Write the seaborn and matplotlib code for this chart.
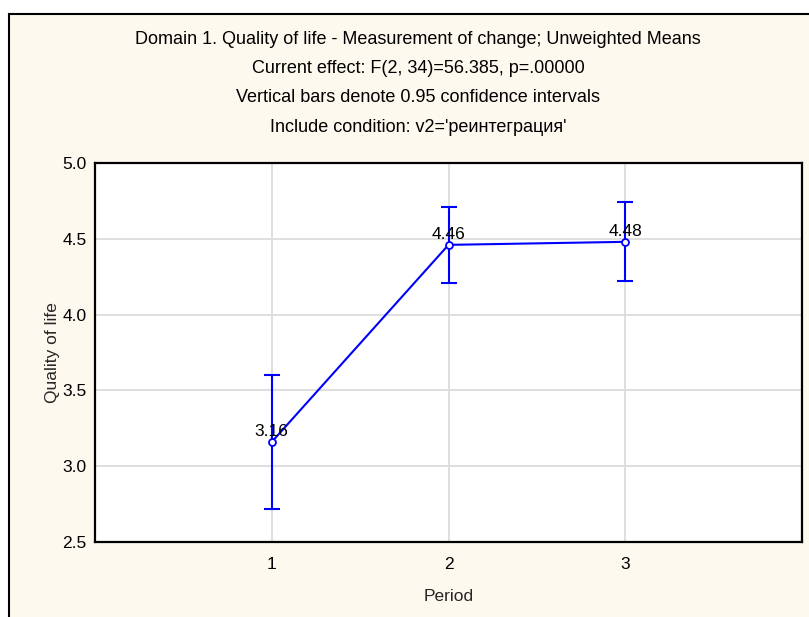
import matplotlib
matplotlib.use("Agg")
import pandas as pd
import matplotlib.pyplot as plt
import seaborn as sns
from matplotlib.patches import Rectangle

# Values
periods = [1, 2, 3]
means = [3.16, 4.46, 4.48]
ci_low = [2.72, 4.21, 4.22]
ci_high = [3.60, 4.71, 4.74]
y_ticks = [2.5, 3.0, 3.5, 4.0, 4.5, 5.0]

title_lines = [
    "Domain 1. Quality of life - Measurement of change; Unweighted Means",
    "Current effect: F(2, 34)=56.385, p=.00000",
    "Vertical bars denote 0.95 confidence intervals",
    "Include condition: v2='реинтеграция'",
]

df = pd.DataFrame({"Period": periods, "mean": means, "lo": ci_low, "hi": ci_high})

sns.set_style("white")
plt.rcParams["font.family"] = ["Liberation Sans", "DejaVu Sans"]

W, H = 809, 617
FS = 12.5
fig = plt.figure(figsize=(W / 100, H / 100), dpi=100, facecolor="white")

# cream panel with black border (cut off at right/bottom)
panel = Rectangle((9 / W, -0.05), 1.2, 1 - 14 / H + 0.05,
                  transform=fig.transFigure, facecolor="#FEF9EF",
                  edgecolor="black", linewidth=1.5, zorder=-10)
fig.add_artist(panel)

ax = fig.add_axes([95 / W, 1 - 542 / H, (802 - 95) / W, (542 - 163) / H])
ax.set_zorder(1)
ax.set_facecolor("white")

blue = "#0000FF"
ax.errorbar(df["Period"], df["mean"],
            yerr=[df["mean"] - df["lo"], df["hi"] - df["mean"]],
            fmt="none", ecolor=blue, elinewidth=1.5, capsize=5.5, capthick=1.5, zorder=3)
sns.lineplot(data=df, x="Period", y="mean", ax=ax, color=blue, linewidth=1.5,
             marker="o", markersize=5, markerfacecolor="white",
             markeredgecolor=blue, markeredgewidth=1.3, zorder=4)

for x, y in zip(periods, means):
    ax.annotate(f"{y:.2f}", (x, y), xytext=(0, 2), textcoords="offset points",
                ha="center", va="bottom", fontsize=FS, color="black", zorder=5)

ax.set_xlim(0, 4)
ax.set_ylim(2.5, 5.0)
ax.set_xticks(periods)
ax.set_yticks(y_ticks)
ax.set_yticklabels([f"{v:.1f}" for v in y_ticks])
ax.grid(True, color="#DCDCDC", linewidth=1.3)
ax.set_axisbelow(True)
for s in ax.spines.values():
    s.set_color("black")
    s.set_linewidth(1.6)
ax.tick_params(axis="both", direction="out", length=3, width=1, colors="black",
               labelsize=FS, pad=3)
ax.tick_params(axis="x", pad=8)

ax.set_xlabel("Period", fontsize=FS, labelpad=12)
ax.set_ylabel("Quality of life", fontsize=FS, rotation=90, labelpad=2)

y0 = 39
for i, line in enumerate(title_lines):
    fig.text(418 / W, 1 - (y0 + i * 29.5) / H, line, ha="center", va="center",
             fontsize=13, color="black")

fig.savefig("out.png", dpi=100, facecolor=fig.get_facecolor())
